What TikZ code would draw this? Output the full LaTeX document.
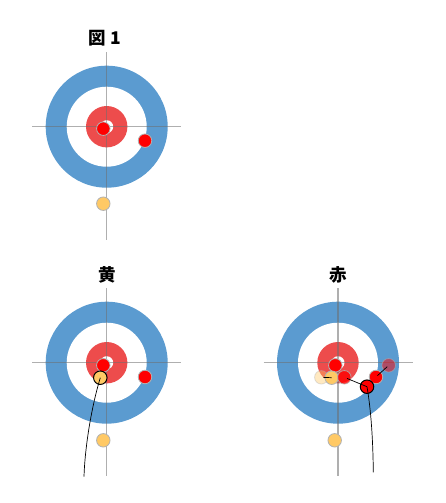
\documentclass[tikz,border=0pt]{standalone}
\usepackage{fontspec}
\usepackage{xcolor}
\newfontfamily\cjk{Noto Sans CJK JP}
\usetikzlibrary{positioning}
\definecolor{ringblue}{RGB}{91,155,208}
\definecolor{buttonred}{RGB}{237,76,76}
\definecolor{stonered}{RGB}{255,0,0}
\definecolor{stoneyellow}{RGB}{255,201,101}
\definecolor{crossgray}{RGB}{110,110,110}
\begin{document}
\begin{tikzpicture}[
  x=1pt, y=-1pt,
  stone/.style={circle, draw=gray!60, line width=0.8pt, inner sep=0pt, minimum size=13.5pt},
  redstone/.style={stone, fill=stonered},
  yelstone/.style={stone, fill=stoneyellow},
  shot/.style={draw=black, line width=1pt},
  move/.style={line width=0.7pt, black},
  title/.style={font=\cjk\bfseries\fontsize{17.5}{20}\selectfont}
]
\useasboundingbox (0,0) rectangle (445,503);
% three houses
\foreach \cx/\cy in {106.7/126.7,106.7/362.7,338/362.7} {
  \fill[ringblue] (\cx,\cy) circle (61);
  \fill[white] (\cx,\cy) circle (40);
  \fill[buttonred] (\cx,\cy) circle (20.7);
  \fill[white] (\cx,\cy) circle (6.5);
  \draw[crossgray, opacity=0.55, line width=1.2pt] (\cx-74.5,\cy) -- (\cx+74.5,\cy);
  \draw[crossgray, opacity=0.55, line width=1.2pt] (\cx,\cy-74.5) -- (\cx,\cy+113);
}
\node[title] (fig) at (105,38) {図 1};
\node[title] (yel) at (107,275) {黄};
\node[title] (aka) at (338,275) {赤};
% top
\node[redstone] (a1) at (103.3,128.7) {};
\node[redstone] (a2) at (145,140.7) {};
\node[yelstone] (a3) at (103.3,203.7) {};
% yellow throw
\node[redstone] (b1) at (103.3,365.3) {};
\node[redstone] (b2) at (145,377) {};
\node[yelstone] (b3) at (103.3,440.3) {};
\node[yelstone, shot] (b4) at (100.3,377.7) {};
\coordinate (b5) at (84,476.7);
\draw[move] (b5) .. controls (85,445) and (92,405) .. (b4.center);
% red throw
\node[redstone] (c1) at (335.3,365.3) {};
\node[yelstone] (c2) at (334.7,440.3) {};
\node[yelstone, opacity=0.4] (c3) at (321.3,377.3) {};
\node[yelstone] (c4) at (331.7,377.7) {};
\node[redstone, opacity=0.8] (c5) at (344.3,377.3) {};
\node[redstone] (c6) at (376,377) {};
\node[redstone, opacity=0.5] (c7) at (388.7,365.3) {};
\node[redstone, shot] (c8) at (367,386.7) {};
\coordinate (c9) at (373.3,472.3);
\draw[move] (c9) .. controls (373,440) and (371,410) .. (c8.center);
\draw[move, shorten <=2pt] (c3.center) -- (c4.center);
\draw[move, shorten <=3pt] (c5.center) -- (c8.center);
\draw[move, shorten <=2pt, shorten >=2pt] (c6.center) -- (c7.center);
\end{tikzpicture}
\end{document}
